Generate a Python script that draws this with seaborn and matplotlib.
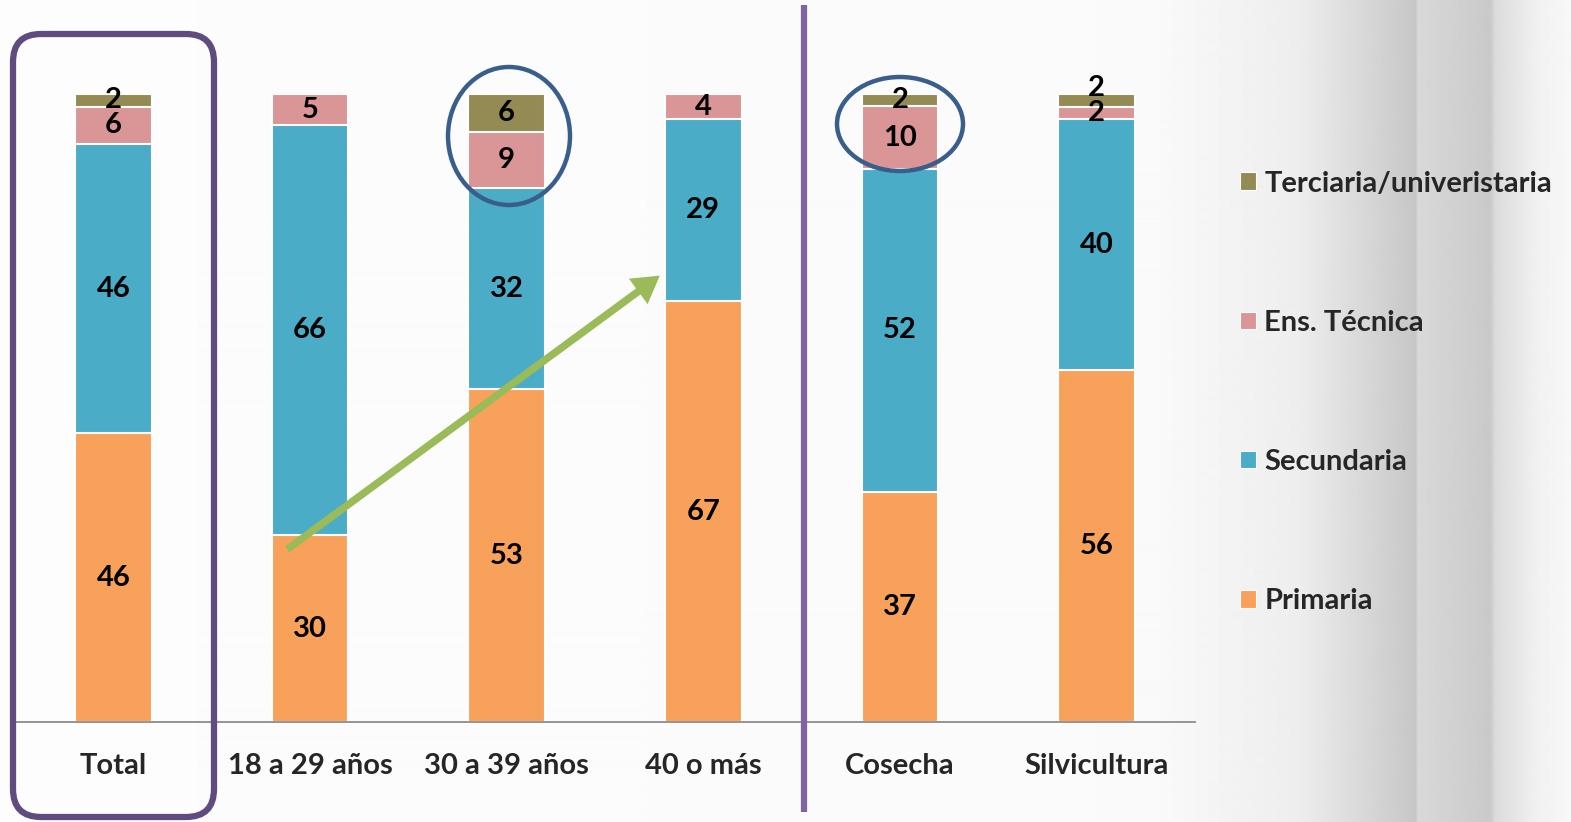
# -*- coding: utf-8 -*-
"""
Nivel educativo por grupo: barras apiladas al 100 % con anotaciones.
"""

import numpy as np
import pandas as pd
import matplotlib
matplotlib.use("Agg")
import matplotlib.pyplot as plt
import seaborn as sns
from matplotlib.patches import FancyBboxPatch, Ellipse, FancyArrowPatch, Patch


# =============================================================================
# Data
# =============================================================================
CATEGORIES = ["Total", "18 a 29 años", "30 a 39 años", "40 o más", "Cosecha", "Silvicultura"]

PRIMARIA = [46, 30, 53, 67, 37, 56]
SECUNDARIA = [46, 66, 32, 29, 52, 40]
TECNICA = [6, 5, 9, 4, 10, 2]
TERCIARIA = [2, 0, 6, 0, 2, 2]

LEVELS = ["Primaria", "Secundaria", "Ens. Técnica", "Terciaria/univeristaria"]


# =============================================================================
# Style
# =============================================================================
COLORS = {
    "Primaria": "#F8A15B",
    "Secundaria": "#4AACC6",
    "Ens. Técnica": "#DA9596",
    "Terciaria/univeristaria": "#948A54",
}

W, H, DPI = 1571, 822, 100
FONT = ["Lato", "DejaVu Sans"]
FS = 21

sns.set_style("white")
plt.rcParams["font.family"] = FONT
plt.rcParams["font.weight"] = "bold"


# =============================================================================
# Table
# =============================================================================
df = pd.DataFrame(
    {
        "Category": CATEGORIES,
        "Primaria": PRIMARIA,
        "Secundaria": SECUNDARIA,
        "Ens. Técnica": TECNICA,
        "Terciaria/univeristaria": TERCIARIA,
    }
)
totals = df[LEVELS].sum(axis=1)
share = df[LEVELS].div(totals, axis=0) * 100
cum = share.cumsum(axis=1)
bottoms = cum - share
for lvl in LEVELS:
    df["cum_" + lvl] = cum[lvl]


fig = plt.figure(figsize=(W / DPI, H / DPI), dpi=DPI)
fig.patch.set_facecolor("white")

# -----------------------------------------------------------------------------
# Background (soft grey curtain on the right)
# -----------------------------------------------------------------------------
bg = fig.add_axes([0, 0, 1, 1], zorder=-10)
xs = np.arange(W)
stops_x = [0, 1150, 1300, 1415, 1418, 1490, 1495, 1540, 1571]
stops_v = [0.99, 0.98, 0.93, 0.78, 0.85, 0.79, 0.86, 0.95, 0.97]
grad = np.interp(xs, stops_x, stops_v)
bg.imshow(np.tile(grad, (2, 1)), cmap="gray", vmin=0, vmax=1, aspect="auto",
          extent=(0, W, H, 0), interpolation="bilinear")
bg.axis("off")

# -----------------------------------------------------------------------------
# Stacked bars
# -----------------------------------------------------------------------------
ax = fig.add_axes([15 / W, 100 / H, 1180 / W, 628 / H])
ax.patch.set_alpha(0)

for lvl in reversed(LEVELS):
    sns.barplot(
        data=df,
        x="Category",
        y="cum_" + lvl,
        order=CATEGORIES,
        color=COLORS[lvl],
        width=0.39,
        errorbar=None,
        edgecolor="white",
        linewidth=1.5,
        saturation=1,
        ax=ax,
    )

for i in range(len(CATEGORIES)):
    for j, lvl in enumerate(LEVELS):
        v = df.loc[i, lvl]
        if v <= 0:
            continue
        y = bottoms.loc[i, lvl] + share.loc[i, lvl] / 2
        # two thin segments stacked: lift the upper label a little
        if j > 0 and share.loc[i, lvl] < 3 and 0 < share.loc[i, LEVELS[j - 1]] < 3:
            y += 2.0
        ax.text(i, y, str(v), ha="center", va="center", fontsize=FS,
                fontweight="bold", color="black", zorder=4)

ax.set_xlim(-0.5, len(CATEGORIES) - 0.5)
ax.set_ylim(0, 100)
ax.set_xlabel("")
ax.set_ylabel("")
ax.set_yticks([])
sns.despine(ax=ax, left=True)
ax.spines["bottom"].set_color("#8C8C8C")
ax.spines["bottom"].set_linewidth(1.3)
ax.tick_params(axis="x", which="major", length=0, pad=22, labelsize=FS)
ax.set_xticks(np.arange(-0.5, len(CATEGORIES)), minor=True)
ax.tick_params(axis="x", which="minor", length=9, width=1.3, color="#8C8C8C",
               direction="out")
for lab in ax.get_xticklabels():
    lab.set_fontweight("bold")

# -----------------------------------------------------------------------------
# Legend
# -----------------------------------------------------------------------------
handles = [Patch(facecolor=COLORS[l], edgecolor="white", linewidth=0.8)
           for l in reversed(LEVELS)]
fig.legend(
    handles,
    list(reversed(LEVELS)),
    loc="upper left",
    bbox_to_anchor=(1225 / W, 1 - 156 / H),
    frameon=False,
    prop={"family": FONT, "weight": "bold", "size": FS},
    labelspacing=3.88,
    handlelength=0.55,
    handleheight=0.55,
    handletextpad=0.3,
    borderpad=0,
)

# -----------------------------------------------------------------------------
# Annotations (pixel overlay)
# -----------------------------------------------------------------------------
ov = fig.add_axes([0, 0, 1, 1], zorder=5)
ov.set_xlim(0, W)
ov.set_ylim(H, 0)
ov.axis("off")
ov.patch.set_alpha(0)

ov.add_patch(FancyBboxPatch((13, 34), 201, 783,
                            boxstyle="round,pad=0,rounding_size=28",
                            lw=4.5, ec="#5F4B80", fc="none"))
ov.plot([804, 804], [5, 812], color="#8064A2", lw=4.5, solid_capstyle="butt")

ov.add_patch(Ellipse((509, 136), 122, 138, lw=3.2, ec="#3A5E8C", fc="none"))
ov.add_patch(Ellipse((900, 124), 126, 94, lw=3.2, ec="#3A5E8C", fc="none"))

ov.add_patch(FancyArrowPatch(
    (285, 551), (662, 274),
    arrowstyle="simple,head_length=1.6,head_width=1.9,tail_width=0.45",
    mutation_scale=12, color="#9BBB59", lw=0,
))

fig.savefig("out.png", dpi=DPI)
